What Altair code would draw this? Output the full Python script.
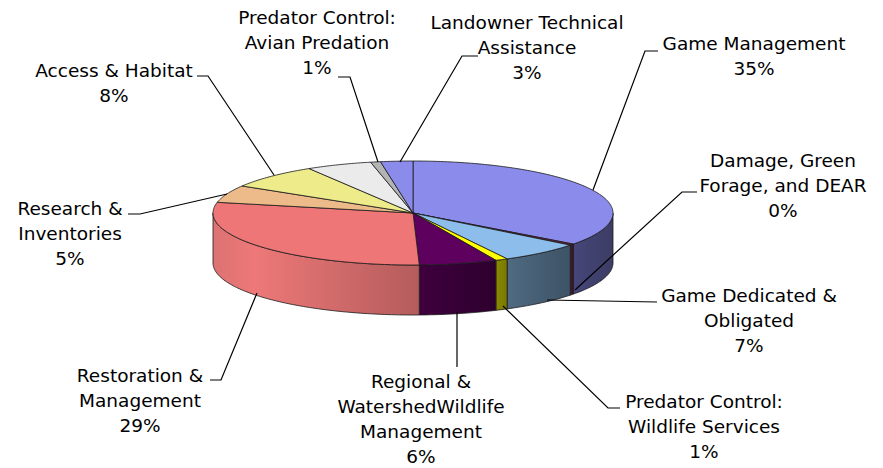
import math
import altair as alt
import pandas as pd

# ---------------- data ----------------
categories = [
    "Game Management",
    "Damage, Green Forage, and DEAR",
    "Game Dedicated & Obligated",
    "Predator Control: Wildlife Services",
    "Regional & WatershedWildlife Management",
    "Restoration & Management",
    "Research & Inventories",
    "Access & Habitat",
    "Other (unlabeled)",
    "Predator Control: Avian Predation",
    "Landowner Technical Assistance",
]
values = [35.2, 0.4, 6.6, 1.0, 6.3, 28.8, 5.4, 7.6, 5.3, 0.8, 2.6]

# label line breaks (None = slice has no label)
label_lines = [
    ["Game Management"],
    ["Damage, Green", "Forage, and DEAR"],
    ["Game Dedicated &", "Obligated"],
    ["Predator Control:", "Wildlife Services"],
    ["Regional &", "WatershedWildlife", "Management"],
    ["Restoration &", "Management"],
    ["Research &", "Inventories"],
    ["Access & Habitat"],
    None,
    ["Predator Control:", "Avian Predation"],
    ["Landowner Technical", "Assistance"],
]

# ---------------- styles ----------------
top_colors = ["#8B8BEB", "#7A2346", "#8DBDEB", "#FFFF00", "#5E005E", "#EE7676",
              "#EDBB8A", "#EDEB8A", "#EBEBEB", "#B4B4B4", "#8B8BEB"]
side_colors = [
    [(0, "#46467A"), (1, "#3C3C64")],
    [(0, "#4A1A30"), (1, "#3E1428")],
    [(0, "#4F6A82"), (1, "#3D5366")],
    [(0, "#8A8A00"), (1, "#787800")],
    [(0, "#3E003D"), (1, "#2E002E")],
    [(0, "#DC7272"), (0.2, "#EE7878"), (1, "#B45C5C")],
    None, None, None, None, None,
]

# ---------------- layout (page pixels) ----------------
CX, CY, RX, RY, DEPTH = 413, 213, 200, 52, 50
label_pos = [
    (754, 50), (783, 167), (749, 302), (704, 408), (421, 388), (140, 382),
    (70, 215), (114, 77), None, (317, 24), (527, 29),
]
leaders = [
    [(658, 51), (645, 51), (593, 190)],
    [(697, 192), (682, 192), (575, 290)],
    [(657, 302), (547, 300)],
    [(620, 408), (608, 408), (503, 306)],
    [(457, 312), (457, 367)],
    [(210, 380), (221, 380), (257, 293)],
    [(128, 214), (140, 214), (227, 194)],
    [(197, 76), (208, 76), (274, 175)],
    None,
    [(338, 77), (350, 77), (378, 162)],
    [(478, 56), (462, 56), (400, 162)],
]

FONT = "DejaVu Sans"
FS = 18.5


def ell(theta, dy=0.0):
    t = math.radians(theta)
    return [CX + RX * math.sin(t), CY - RY * math.cos(t) + dy]


def arc(a, b, dy=0.0):
    n = max(2, int(abs(b - a)) + 2)
    return [ell(a + (b - a) * k / (n - 1), dy) for k in range(n)]


total = sum(values)
top_feats = []
side_feats = []
cum = 0.0
for i, v in enumerate(values):
    a = cum / total * 360.0
    b = (cum + v) / total * 360.0
    cum += v
    ring = [[CX, CY]] + arc(a, b) + [[CX, CY]]
    top_feats.append({
        "type": "Feature",
        "geometry": {"type": "Polygon", "coordinates": [ring]},
        "properties": {"name": categories[i], "color": top_colors[i]},
    })
    a2, b2 = max(a, 90.0), min(b, 270.0)
    if b2 > a2 and side_colors[i] is not None:
        top = arc(a2, b2)
        bot = arc(b2, a2, DEPTH)
        sring = top + bot + [top[0]]
        side_feats.append((i, {
            "type": "Feature",
            "geometry": {"type": "Polygon", "coordinates": [sring]},
            "properties": {"name": categories[i]},
        }))

proj = dict(type="identity", scale=1, translate=[-8, -8])

layers = []
for i, feat in side_feats:
    grad = alt.Gradient(
        gradient="linear",
        stops=[alt.GradientStop(offset=o, color=c) for o, c in side_colors[i]],
        x1=0, x2=1, y1=0, y2=0,
    )
    layers.append(
        alt.Chart(alt.Data(values=[feat]))
        .mark_geoshape(fill=grad, stroke="#1a1a1a", strokeWidth=0.8)
        .project(**proj)
    )

tops = (
    alt.Chart(alt.Data(values=top_feats))
    .mark_geoshape(stroke="#1a1a1a", strokeWidth=0.8)
    .encode(fill=alt.Fill("properties.color:N", scale=None))
    .project(**proj)
)
layers.append(tops)

leader_feats = []
for i, pts in enumerate(leaders):
    if pts is None:
        continue
    leader_feats.append({
        "type": "Feature",
        "geometry": {"type": "LineString", "coordinates": [list(p) for p in pts]},
        "properties": {"name": categories[i]},
    })
lead = (
    alt.Chart(alt.Data(values=leader_feats))
    .mark_geoshape(filled=False, stroke="black", strokeWidth=1.2)
    .project(**proj)
)
layers.append(lead)

rows = []
for i, lines in enumerate(label_lines):
    if lines is None:
        continue
    pct = round(values[i] / total * 100)
    rows.append({
        "name": categories[i],
        "label": "\n".join(lines + [f"{pct}%"]),
        "x": label_pos[i][0],
        "y": label_pos[i][1],
    })
labels_df = pd.DataFrame(rows)
text = (
    alt.Chart(labels_df)
    .mark_text(font=FONT, fontSize=FS, align="center", baseline="alphabetic",
               lineBreak="\n", lineHeight=25, color="black")
    .encode(longitude="x:Q", latitude="y:Q", text="label:N")
    .project(**proj)
)
layers.append(text)

chart = (
    alt.layer(*layers)
    .properties(width=867, height=460, padding=0, autosize="none")
    .configure_view(stroke=None)
)

chart.save("out.html", embed_options={"renderer": "svg", "actions": False})
